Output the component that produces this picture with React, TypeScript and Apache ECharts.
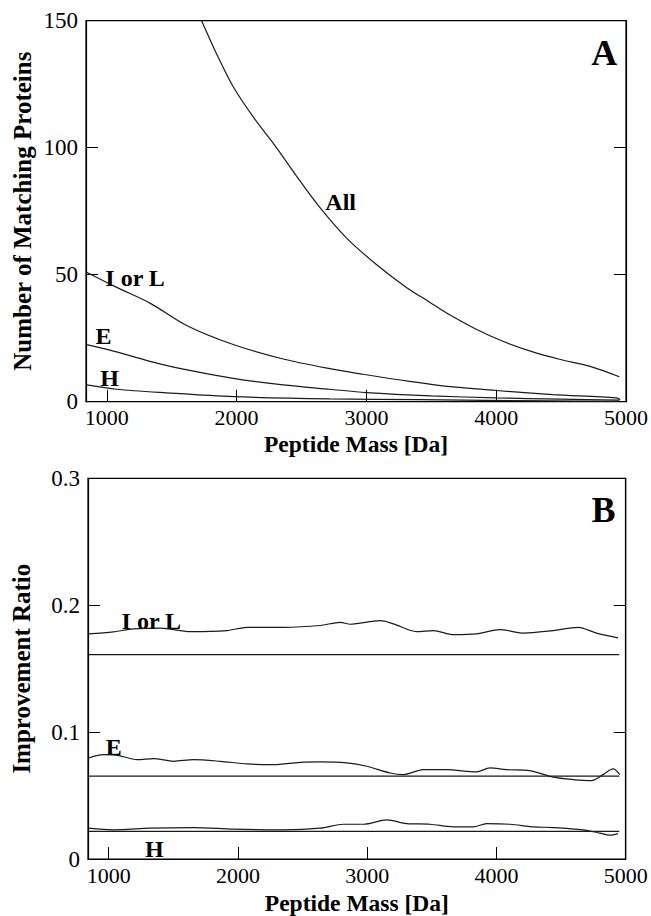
import React, { useEffect, useRef } from "react";
import * as echarts from "echarts";

// Panel A: number of matching proteins vs peptide mass
const allA: [number, number][] = [
  [1731, 150], [1850, 136.5], [1974, 124], [2130, 112], [2300, 100.5], [2487, 87],
  [2641, 76.5], [2846, 64.5], [3077, 54], [3308, 45], [3487, 39.2], [3615, 35],
  [3846, 28.5], [4051, 23.8], [4282, 19.6], [4487, 16.7], [4718, 14.0], [4949, 9.8],
];
const ilA: [number, number][] = [
  [845, 51], [1077, 45], [1333, 38.8], [1615, 30], [1974, 22.5], [2359, 16.8],
  [2718, 13], [2974, 10.8], [3333, 8], [3667, 5.8], [4000, 4.4], [4436, 2.8],
  [4923, 1.5], [4955, 0.8],
];
const eA: [number, number][] = [
  [845, 22.5], [1025, 20.3], [1333, 15.9], [1590, 12.8], [1974, 9.2], [2359, 6.6],
  [2718, 4.9], [3000, 3.6], [3500, 2.3], [4000, 1.5], [4500, 1.0], [4950, 0.6],
];
const hA: [number, number][] = [
  [845, 6.6], [1077, 4.9], [1461, 3.5], [1974, 2.0], [2718, 1.1], [3410, 0.8],
  [4436, 0.3], [4950, 0.1],
];
const labelsA: [number, number, string][] = [
  [2802, 78.6, "All"], [1218, 48.8, "I or L"], [975, 26, "E"], [1022, 9.3, "H"],
];
const panelA: [number, number, string] = [4833, 137.2, "A"];

// Panel B: improvement ratio vs peptide mass
const ilB: [number, number][] = [
  [845, 0.1774], [1036, 0.179], [1192, 0.1813], [1400, 0.182], [1631, 0.1792], [1915, 0.18],
  [2070, 0.1826], [2352, 0.1826], [2636, 0.184], [2791, 0.1865], [2868, 0.185], [3100, 0.1878],
  [3203, 0.1853], [3383, 0.1792], [3512, 0.18], [3667, 0.1768], [3847, 0.1774], [4027, 0.1808],
  [4207, 0.178], [4439, 0.18], [4632, 0.1826], [4774, 0.178], [4941, 0.1743],
];
const eB: [number, number][] = [
  [845, 0.0796], [961, 0.0822], [1070, 0.0817], [1219, 0.0783], [1348, 0.0791], [1502, 0.077],
  [1657, 0.0783], [1863, 0.077], [2070, 0.0749], [2275, 0.0743], [2481, 0.0762], [2636, 0.0765],
  [2842, 0.0757], [2997, 0.0731], [3177, 0.0678], [3280, 0.0665], [3434, 0.0704], [3615, 0.0704],
  [3847, 0.0686], [3949, 0.0718], [4078, 0.0704], [4258, 0.0696], [4439, 0.0645], [4594, 0.0626],
  [4735, 0.0618], [4825, 0.0665], [4903, 0.071], [4954, 0.0665],
];
const hB: [number, number][] = [
  [845, 0.0243], [1036, 0.023], [1322, 0.0243], [1657, 0.0248], [1967, 0.0235], [2352, 0.023],
  [2636, 0.0243], [2816, 0.0274], [2971, 0.0274], [3151, 0.0308], [3306, 0.0279], [3486, 0.0274],
  [3667, 0.0253], [3821, 0.0253], [3924, 0.0279], [4104, 0.0274], [4284, 0.0253], [4439, 0.0248],
  [4671, 0.023], [4800, 0.0204], [4877, 0.0188], [4941, 0.02],
];
const baselinesB: number[] = [0.161, 0.0653, 0.0217];
const baselineRange: [number, number] = [845, 4950];
const labelsB: [number, number, string][] = [
  [1330, 0.1872, "I or L"], [1040, 0.0886, "E"], [1353, 0.008, "H"],
];
const panelB: [number, number, string] = [4828, 0.2752, "B"];

const xTickValues = [1000, 2000, 3000, 4000];
const xLabelValues = [1000, 2000, 3000, 4000, 5000];

const FONT = "'Liberation Serif', 'Times New Roman', serif";
const INK = "#000";

export default function App() {
  const ref = useRef<HTMLDivElement>(null);
  useEffect(() => {
    if (!ref.current) return;
    const chart = echarts.init(ref.current, undefined, { renderer: "svg" });

    const xAxis = (gridIndex: number, nameGap: number) => ({
      type: "value",
      gridIndex,
      min: 840,
      max: 5000,
      axisLine: { show: true, lineStyle: { color: INK, width: 1.2 } },
      axisTick: {
        show: true,
        inside: true,
        length: 12,
        customValues: xTickValues,
        lineStyle: { color: INK, width: 1 },
      },
      axisLabel: {
        customValues: xLabelValues,
        color: INK,
        fontFamily: FONT,
        fontSize: 22,
        lineHeight: 18,
        margin: 7,
        formatter: (v: number) => String(Math.round(v)),
      },
      splitLine: { show: false },
      name: "Peptide Mass [Da]",
      nameLocation: "middle",
      nameGap,
      nameMoveOverlap: false,
      nameTextStyle: { color: INK, fontFamily: FONT, fontSize: 23.5, lineHeight: 18, fontWeight: "bold" },
    });

    const yLeft = (gridIndex: number, max: number, interval: number, name: string, fmt: (v: number) => string, nameGap: number) => ({
      type: "value",
      gridIndex,
      min: 0,
      max,
      interval,
      position: "left",
      axisLine: { show: true, lineStyle: { color: INK, width: 1.2 } },
      axisTick: { show: true, inside: true, length: 12, lineStyle: { color: INK, width: 1 } },
      axisLabel: { color: INK, fontFamily: FONT, fontSize: 23, margin: 8, formatter: fmt },
      splitLine: { show: false },
      name,
      nameLocation: "middle",
      nameGap,
      nameRotate: 90,
      nameMoveOverlap: false,
      nameTextStyle: { color: INK, fontFamily: FONT, fontSize: 25, fontWeight: "bold" },
    });

    const yRight = (gridIndex: number, max: number, interval: number) => ({
      type: "value",
      gridIndex,
      min: 0,
      max,
      interval,
      position: "right",
      axisLine: { show: true, lineStyle: { color: INK, width: 1.2 } },
      axisTick: { show: true, inside: true, length: 12, lineStyle: { color: INK, width: 1 } },
      axisLabel: { show: false },
      splitLine: { show: false },
    });

    const line = (data: [number, number][], xi: number, yi: number, smooth: number | boolean = 0.3) => ({
      type: "line",
      xAxisIndex: xi,
      yAxisIndex: yi,
      data,
      smooth,
      symbol: "none",
      lineStyle: { color: "#1a1a1a", width: 1.2 },
      silent: true,
    });

    const textSeries = (items: [number, number, string][], xi: number, yi: number, size: number) => ({
      type: "scatter",
      xAxisIndex: xi,
      yAxisIndex: yi,
      symbolSize: 0,
      silent: true,
      itemStyle: { opacity: 1, color: INK },
      data: items.map((d) => ({ value: [d[0], d[1]], name: d[2] })),
      label: {
        show: true,
        position: "inside",
        formatter: (p: any) => p.name,
        color: INK,
        opacity: 1,
        textBorderWidth: 0,
        fontFamily: FONT,
        fontSize: size,
        fontWeight: "bold",
      },
    });

    const fmt1 = (v: number) => String(Math.round(v));
    const fmt2 = (v: number) => String(+v.toFixed(1));

    chart.setOption({
      animation: false,
      backgroundColor: "#fff",
      grid: [
        { left: 86, right: 24.3, top: 20.7, height: 381, show: true, borderColor: INK, borderWidth: 1.2, containLabel: false },
        { left: 88, right: 25.3, top: 478.3, height: 383.4, show: true, borderColor: INK, borderWidth: 1.2, containLabel: false },
      ],
      xAxis: [xAxis(0, 33), xAxis(1, 35)],
      yAxis: [
        yLeft(0, 150, 50, "Number of Matching Proteins", fmt1, 51),
        yRight(0, 150, 50),
        yLeft(1, 0.3, 0.1, "Improvement Ratio", fmt2, 54),
        yRight(1, 0.3, 0.1),
      ],
      series: [
        line(allA, 0, 0),
        line(ilA, 0, 0),
        line(eA, 0, 0),
        line(hA, 0, 0),
        textSeries(labelsA, 0, 0, 24),
        textSeries([panelA], 0, 0, 36),
        line(ilB, 1, 2),
        line(eB, 1, 2),
        line(hB, 1, 2),
        ...baselinesB.map((b) => line([[baselineRange[0], b], [baselineRange[1], b]], 1, 2, false)),
        textSeries(labelsB, 1, 2, 24),
        textSeries([panelB], 1, 2, 36),
      ],
    });
    return () => chart.dispose();
  }, []);
  return (
    <div
      ref={ref}
      style={{ position: "absolute", left: 0, top: 0, width: 651, height: 916, background: "#fff" }}
    />
  );
}
